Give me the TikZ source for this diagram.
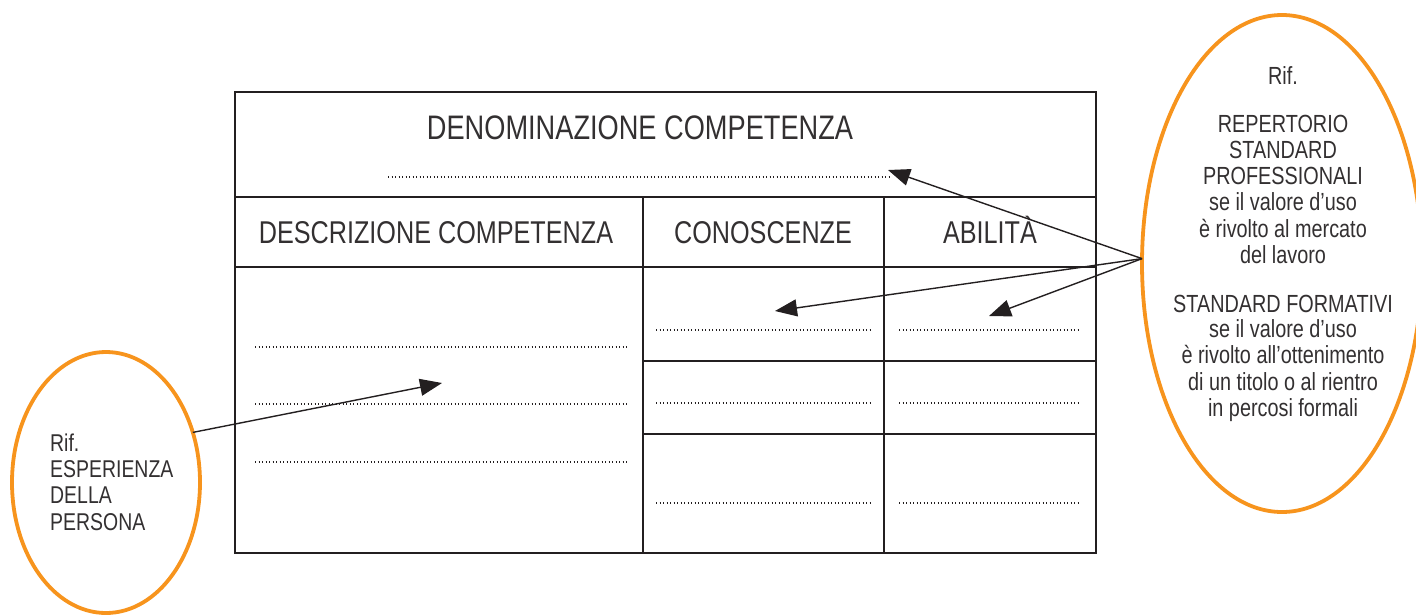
\documentclass[tikz,border=0pt]{standalone}
\usepackage{fontspec}
\setmainfont[FakeStretch=0.8]{Liberation Sans}
\usetikzlibrary{shapes.geometric,arrows.meta}
\definecolor{orng}{HTML}{F7941D}
\definecolor{ink}{HTML}{231F20}
\definecolor{txt}{HTML}{333031}
\begin{document}
\begin{tikzpicture}[x=1pt,y=-1pt,
  tbl/.style={draw=ink,line width=2.8pt},
  dots/.style={draw=ink,line width=1.3pt,dash pattern=on 1.1pt off 2.4pt},
  oval/.style={draw=orng,line width=3.8pt,ellipse,inner sep=0pt,outer sep=0pt},
  conn/.style={draw=ink,line width=1.4pt,-{Triangle[length=22pt,width=17pt]}},
  hdr/.style={font=\fontsize{31.5}{36}\selectfont,text=txt,inner sep=0pt,anchor=base},
  small/.style={font=\fontsize{24.8}{26}\selectfont,text=txt,inner sep=0pt,anchor=base}]
\useasboundingbox (0,0) rectangle (1416,614);

% table
\node[tbl,minimum width=861pt,minimum height=461pt,anchor=north west,inner sep=0pt,outer sep=0pt] (T) at (235,92) {};
\draw[tbl] (235,197) -- (1096,197);
\draw[tbl] (235,267) -- (1096,267);
\draw[tbl] (643,197) -- (643,553);
\draw[tbl] (884,197) -- (884,553);
\draw[tbl] (643,361) -- (1096,361);
\draw[tbl] (643,434) -- (1096,434);

% headers
\node[hdr,font=\fontsize{34}{40}\selectfont] (denom) at (640,139) {DENOMINAZIONE COMPETENZA};
\node[hdr] (descr) at (436,243) {DESCRIZIONE COMPETENZA};
\node[hdr] (cono) at (763,243) {CONOSCENZE};
\node[hdr] (abil) at (990,243) {ABILITÀ};

% dotted lines
\draw[dots] (388,177) -- (890,177);
\foreach \y in {347,404,462} \draw[dots] (255,\y) -- (627,\y);
\foreach \y in {330,403,503} {
  \draw[dots] (656,\y) -- (870,\y);
  \draw[dots] (899,\y) -- (1080,\y);
}

% ellipses
\node[oval,minimum width=280pt,minimum height=497pt] (R) at (1282,263.5) {};
\node[oval,minimum width=188pt,minimum height=261pt] (L) at (106,482.5) {};

% right text
\foreach \t/\y [count=\i] in {Rif./84, REPERTORIO/132, STANDARD/158, PROFESSIONALI/184,
  se il valore d’uso/210, è rivolto al mercato/237, del lavoro/263,
  STANDARD FORMATIVI/312, se il valore d’uso/337, è rivolto all’ottenimento/363,
  di un titolo o al rientro/390, in percosi formali/416}
  \node[small] (r\i) at (1283,\y) {\t};

% left text
\foreach \t/\y [count=\i] in {Rif./451, ESPERIENZA/477, DELLA/503, PERSONA/530}
  \node[small,font=\fontsize{24.3}{26}\selectfont,anchor=base west] (l\i) at (50,\y) {\t};

% arrow targets
\coordinate (a1) at (888,170);
\coordinate (a2) at (775,311);
\coordinate (a3) at (989,316);
\coordinate (a4) at (442,383);

\draw[conn] (R.178) -- (a1);
\draw[conn] (R.178) -- (a2);
\draw[conn] (R.178) -- (a3);
\draw[conn] (L.30) -- (a4);
\end{tikzpicture}
\end{document}
